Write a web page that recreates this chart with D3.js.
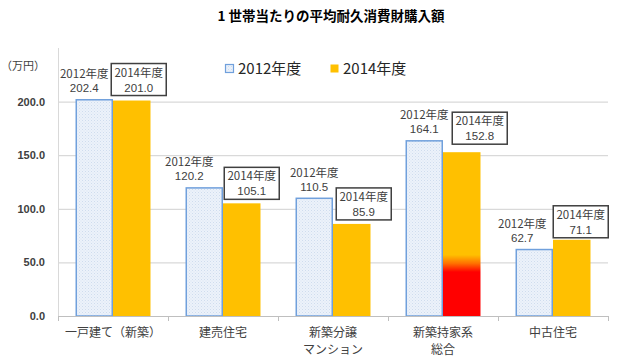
<!DOCTYPE html>
<html><head><meta charset="utf-8">
<script src="https://cdn.jsdelivr.net/npm/d3@7"></script>
<style>
html,body{margin:0;padding:0;background:#fff;}
svg{display:block;font-family:"Noto Sans CJK JP","Noto Sans",sans-serif;}
</style></head>
<body>
<svg id="chart" width="640" height="358"></svg>
<script>
const title = "1 世帯当たりの平均耐久消費財購入額";
const categories = [["一戸建て（新築）"], ["建売住宅"], ["新築分譲", "マンション"], ["新築持家系", "総合"], ["中古住宅"]];
const seriesNames = ["2012年度", "2014年度"];
const values2012 = [202.4, 120.2, 110.5, 164.1, 62.7];
const values2014 = [201.0, 105.1, 85.9, 152.8, 71.1];
const yTicks = [0, 50, 100, 150, 200];
const yUnit = "（万円）";
const highlightIndex = 3;          // bar drawn with red gradient
const highlightFade = [41, 57];    // value range of red→yellow transition

// label placement tweaks (pixels), not data
const lab12dx = [-10, -15, 0, 0, -12];
const lab14dx = [7, 10, 12, 18, 9];
const lab14dy = [-21, -20, -20, -24, -18];

const svg = d3.select("#chart");
const m = {left: 58, right: 608, top: 48, bottom: 316};
const x0 = d3.scaleBand().domain(d3.range(categories.length)).range([m.left, m.right]).padding(0);
const x1 = d3.scaleBand().domain(seriesNames).range([0, x0.bandwidth()]).paddingInner(0).paddingOuter(0.467);
const y = d3.scaleLinear().domain([0, 250]).range([m.bottom, m.top]);

const defs = svg.append("defs");
const pat = defs.append("pattern").attr("id", "dots").attr("patternUnits", "userSpaceOnUse")
  .attr("width", 3).attr("height", 3);
pat.append("rect").attr("width", 3).attr("height", 3).attr("fill", "#ecf2fa");
pat.append("rect").attr("x", 0).attr("y", 0).attr("width", 1).attr("height", 1).attr("fill", "#cfdcee");
pat.append("rect").attr("x", 1.5).attr("y", 1.5).attr("width", 1).attr("height", 1).attr("fill", "#d8e3f2");

const grad = defs.append("linearGradient").attr("id", "hot").attr("gradientUnits", "userSpaceOnUse")
  .attr("x1", 0).attr("x2", 0).attr("y1", y(0)).attr("y2", y(values2014[highlightIndex]));
const f0 = highlightFade[0] / values2014[highlightIndex], f1 = highlightFade[1] / values2014[highlightIndex];
grad.append("stop").attr("offset", 0).attr("stop-color", "#ff0000");
grad.append("stop").attr("offset", f0).attr("stop-color", "#ff0000");
grad.append("stop").attr("offset", (f0 + f1) / 2).attr("stop-color", "#ff7000");
grad.append("stop").attr("offset", f1).attr("stop-color", "#ffc000");
grad.append("stop").attr("offset", 1).attr("stop-color", "#ffc000");

// title
svg.append("text").attr("x", 331).attr("y", 21).attr("text-anchor", "middle")
  .attr("font-size", 13.5).attr("font-weight", "bold").attr("fill", "#000").text(title);

// gridlines
svg.append("g").selectAll("line").data(yTicks.filter(d => d > 0)).join("line")
  .attr("x1", m.left).attr("x2", m.right).attr("y1", d => y(d) + 0.5).attr("y2", d => y(d) + 0.5)
  .attr("stroke", "#d9d9d9").attr("stroke-width", 1.2);
// y axis line
svg.append("line").attr("x1", m.left + 0.5).attr("x2", m.left + 0.5).attr("y1", y(250)).attr("y2", y(0))
  .attr("stroke", "#d9d9d9").attr("stroke-width", 1);

// y tick labels
const yAxis = d3.axisLeft(y).tickValues(yTicks).tickFormat(d3.format(".1f")).tickSize(0).tickPadding(13);
const ya = svg.append("g").attr("transform", `translate(${m.left},0)`).call(yAxis);
ya.select(".domain").remove();
ya.selectAll("text").attr("font-size", 11).attr("font-weight", "bold").attr("fill", "#404040")
  .attr("font-family", "'Liberation Sans',Arial,sans-serif");
svg.append("text").attr("x", 45).attr("y", 70).attr("text-anchor", "end").attr("font-size", 11)
  .attr("fill", "#404040").text(yUnit);

// bars
const groups = svg.append("g").selectAll("g").data(d3.range(categories.length)).join("g")
  .attr("transform", i => `translate(${x0(i)},0)`);
groups.append("rect")
  .attr("x", x1(seriesNames[0]) + 0.75).attr("width", x1.bandwidth() - 1.5)
  .attr("y", i => y(values2012[i]) + 0.75).attr("height", i => y(0) - y(values2012[i]) - 0.75)
  .attr("fill", "url(#dots)").attr("stroke", "#70a0dc").attr("stroke-width", 1.5);
groups.append("rect")
  .attr("x", x1(seriesNames[1])).attr("width", x1.bandwidth())
  .attr("y", i => y(values2014[i])).attr("height", i => y(0) - y(values2014[i]))
  .attr("fill", i => i === highlightIndex ? "url(#hot)" : "#ffc000");

// baseline and ticks
svg.append("line").attr("x1", m.left).attr("x2", m.right).attr("y1", y(0) + 0.5).attr("y2", y(0) + 0.5)
  .attr("stroke", "#bfbfbf").attr("stroke-width", 1.2);
const bounds = d3.range(categories.length + 1).map(i => i < categories.length ? x0(i) : x0(i - 1) + x0.bandwidth());
svg.append("g").selectAll("line").data(bounds).join("line")
  .attr("x1", d => d + 0.5).attr("x2", d => d + 0.5).attr("y1", y(0)).attr("y2", y(0) + 5)
  .attr("stroke", "#bfbfbf");

// category labels
groups.append("text").attr("x", x0.bandwidth() / 2).attr("text-anchor", "middle")
  .attr("font-size", 12).attr("fill", "#404040")
  .each(function(i) {
    const t = d3.select(this);
    categories[i].forEach((line, k) => {
      t.append("tspan").attr("x", x0.bandwidth() / 2).attr("y", 337 + k * 17).text(line);
    });
  });

// 2012 labels (no box)
const numFont = "'Liberation Sans',Arial,sans-serif";
groups.each(function(i) {
  const g = d3.select(this);
  const cx = x1(seriesNames[0]) + x1.bandwidth() / 2 + lab12dx[i];
  const top = y(values2012[i]);
  g.append("text").attr("x", cx).attr("y", top - 21).attr("text-anchor", "middle")
    .attr("font-size", 11.5).attr("fill", "#404040").text(seriesNames[0]);
  g.append("text").attr("x", cx).attr("y", top - 7).attr("text-anchor", "middle")
    .attr("font-size", 11.5).attr("fill", "#404040").attr("font-family", numFont).text(values2012[i].toFixed(1));
});

// 2014 labels (boxed)
groups.each(function(i) {
  const g = d3.select(this);
  const cx = x1(seriesNames[1]) + x1.bandwidth() / 2 + lab14dx[i];
  const cy = y(values2014[i]) + lab14dy[i];
  g.append("rect").attr("x", cx - 27.5).attr("y", cy - 16).attr("width", 55).attr("height", 32)
    .attr("fill", "#fff").attr("stroke", "#404040").attr("stroke-width", 1.5);
  g.append("text").attr("x", cx).attr("y", cy - 3).attr("text-anchor", "middle")
    .attr("font-size", 11.5).attr("fill", "#404040").text(seriesNames[1]);
  g.append("text").attr("x", cx).attr("y", cy + 12).attr("text-anchor", "middle")
    .attr("font-size", 11.5).attr("fill", "#404040").attr("font-family", numFont).text(values2014[i].toFixed(1));
});

// legend
const legend = svg.append("g");
const legX = [225, 330];
seriesNames.forEach((s, k) => {
  legend.append("rect").attr("x", legX[k] + 0.5).attr("y", 64.5).attr("width", 8).attr("height", 8)
    .attr("fill", k === 0 ? "url(#dots)" : "#ffc000").attr("stroke", k === 0 ? "#70a0dc" : "none").attr("stroke-width", 1.2);
  legend.append("text").attr("x", legX[k] + 13).attr("y", 74).attr("font-size", 15).attr("fill", "#262626").text(s);
});
</script>
</body></html>
